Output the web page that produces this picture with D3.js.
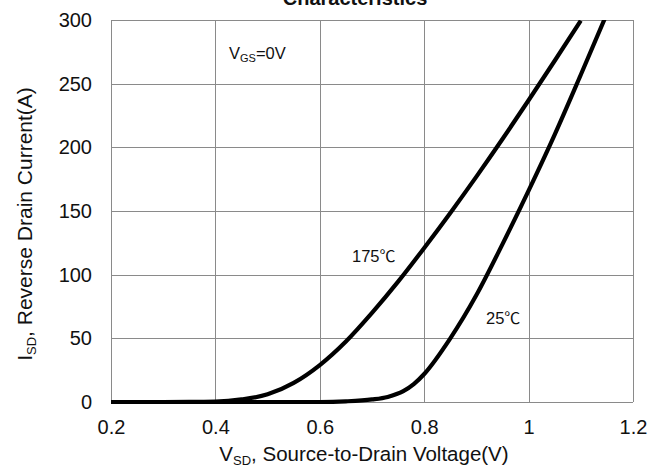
<!DOCTYPE html>
<html>
<head>
<meta charset="utf-8">
<script src="https://cdn.jsdelivr.net/npm/d3@7"></script>
<style>
  html, body { margin: 0; padding: 0; background: #fff; }
  svg { display: block; }
  text { font-family: "Liberation Sans", Arial, sans-serif; fill: #111; }
  .deg { font-family: "Noto Sans CJK SC", "Liberation Sans", sans-serif; }
</style>
</head>
<body>
<svg id="chart" width="666" height="469"></svg>
<script>
// Axis ticks
const voltageTicks = [0.2, 0.4, 0.6, 0.8, 1.0, 1.2];
const currentTicks = [0, 50, 100, 150, 200, 250, 300];

// Body diode forward curve at Tj = 175 °C
const vsd175 = [0.2, 0.3, 0.35, 0.4, 0.45, 0.5, 0.55, 0.6, 0.65, 0.7, 0.75, 0.8, 0.85, 0.9, 0.95, 1.0, 1.05, 1.1];
const isd175 = [0, 0, 0.05, 0.3, 2, 6, 15, 29, 47.5, 70, 94.5, 121, 148.5, 177, 206.5, 237, 268, 299.5];

// Body diode forward curve at Tj = 25 °C
const vsd25 = [0.2, 0.6, 0.65, 0.7, 0.73, 0.76, 0.78, 0.8, 0.85, 0.9, 0.95, 1.0, 1.05, 1.1, 1.15];
const isd25 = [0, 0, 0.5, 2, 4, 8.5, 14, 22, 50, 84, 124, 166, 210, 257, 305];

const svg = d3.select("#chart");
const plotLeft = 111, plotRight = 633, plotTop = 20, plotBottom = 402;

const x = d3.scaleLinear().domain([0.2, 1.2]).range([plotLeft, plotRight]);
const y = d3.scaleLinear().domain([0, 300]).range([plotBottom, plotTop]);

const gridColor = "#8a8a8a";

// Grid lines (outer ones form the frame)
svg.append("g").selectAll("line").data(voltageTicks).join("line")
  .attr("x1", d => Math.round(x(d)) + 0.5).attr("x2", d => Math.round(x(d)) + 0.5)
  .attr("y1", plotTop).attr("y2", plotBottom)
  .attr("stroke", gridColor).attr("stroke-width", 1);
svg.append("g").selectAll("line").data(currentTicks).join("line")
  .attr("x1", plotLeft).attr("x2", plotRight)
  .attr("y1", d => Math.round(y(d)) + 0.5).attr("y2", d => Math.round(y(d)) + 0.5)
  .attr("stroke", gridColor).attr("stroke-width", 1);

// Axes (labels only)
const xAxis = d3.axisBottom(x).tickValues(voltageTicks).tickSize(0).tickPadding(18)
  .tickFormat(d => d3.format("~g")(d));
svg.append("g").attr("transform", `translate(0,${plotBottom})`).call(xAxis)
  .call(g => g.select(".domain").remove())
  .call(g => g.selectAll("text").attr("font-size", 20).attr("fill", "#111")
    .attr("font-family", "'Liberation Sans', Arial, sans-serif"));

const yAxis = d3.axisLeft(y).tickValues(currentTicks).tickSize(0).tickPadding(19);
svg.append("g").attr("transform", `translate(${plotLeft},0)`).call(yAxis)
  .call(g => g.select(".domain").remove())
  .call(g => g.selectAll("text").attr("font-size", 20).attr("fill", "#111")
    .attr("font-family", "'Liberation Sans', Arial, sans-serif"));

// Curves
svg.append("clipPath").attr("id", "plot-clip").append("rect")
  .attr("x", plotLeft).attr("y", plotTop).attr("width", plotRight - plotLeft).attr("height", plotBottom - plotTop + 3);

const line = d3.line().x(d => x(d[0])).y(d => y(d[1])).curve(d3.curveMonotoneX);
const series = [d3.zip(vsd175, isd175), d3.zip(vsd25, isd25)];
svg.append("g").attr("clip-path", "url(#plot-clip)")
  .selectAll("path").data(series).join("path")
  .attr("d", line).attr("fill", "none").attr("stroke", "#000")
  .attr("stroke-width", 4.2).attr("stroke-linejoin", "round");

// Title (partly above the canvas)
svg.append("text").attr("x", 355).attr("y", 5).attr("text-anchor", "middle")
  .attr("font-size", 20).attr("font-weight", "bold").text("Characteristics");

// Annotations
const vgs = svg.append("text").attr("x", 229).attr("y", 59).attr("font-size", 16.5);
vgs.append("tspan").text("V");
vgs.append("tspan").attr("font-size", 11).attr("dy", 3).text("GS");
vgs.append("tspan").attr("dy", -3).text("=0V");

const t175 = svg.append("text").attr("x", 352).attr("y", 262).attr("font-size", 16.5);
t175.append("tspan").text("175");
t175.append("tspan").attr("class", "deg").attr("font-size", 16).text("℃");
const t25 = svg.append("text").attr("x", 486).attr("y", 324).attr("font-size", 16.5);
t25.append("tspan").text("25");
t25.append("tspan").attr("class", "deg").attr("font-size", 16).text("℃");

// Axis titles
const xt = svg.append("text").attr("x", 364).attr("y", 461).attr("text-anchor", "middle").attr("font-size", 20.5);
xt.append("tspan").text("V");
xt.append("tspan").attr("font-size", 13).attr("dy", 4).text("SD");
xt.append("tspan").attr("dy", -4).text(", Source-to-Drain Voltage(V)");

const yt = svg.append("text").attr("transform", "translate(32,224) rotate(-90)")
  .attr("text-anchor", "middle").attr("font-size", 21);
yt.append("tspan").text("I");
yt.append("tspan").attr("font-size", 13).attr("dy", 4).text("SD");
yt.append("tspan").attr("dy", -4).text(", Reverse Drain Current(A)");
</script>
</body>
</html>
